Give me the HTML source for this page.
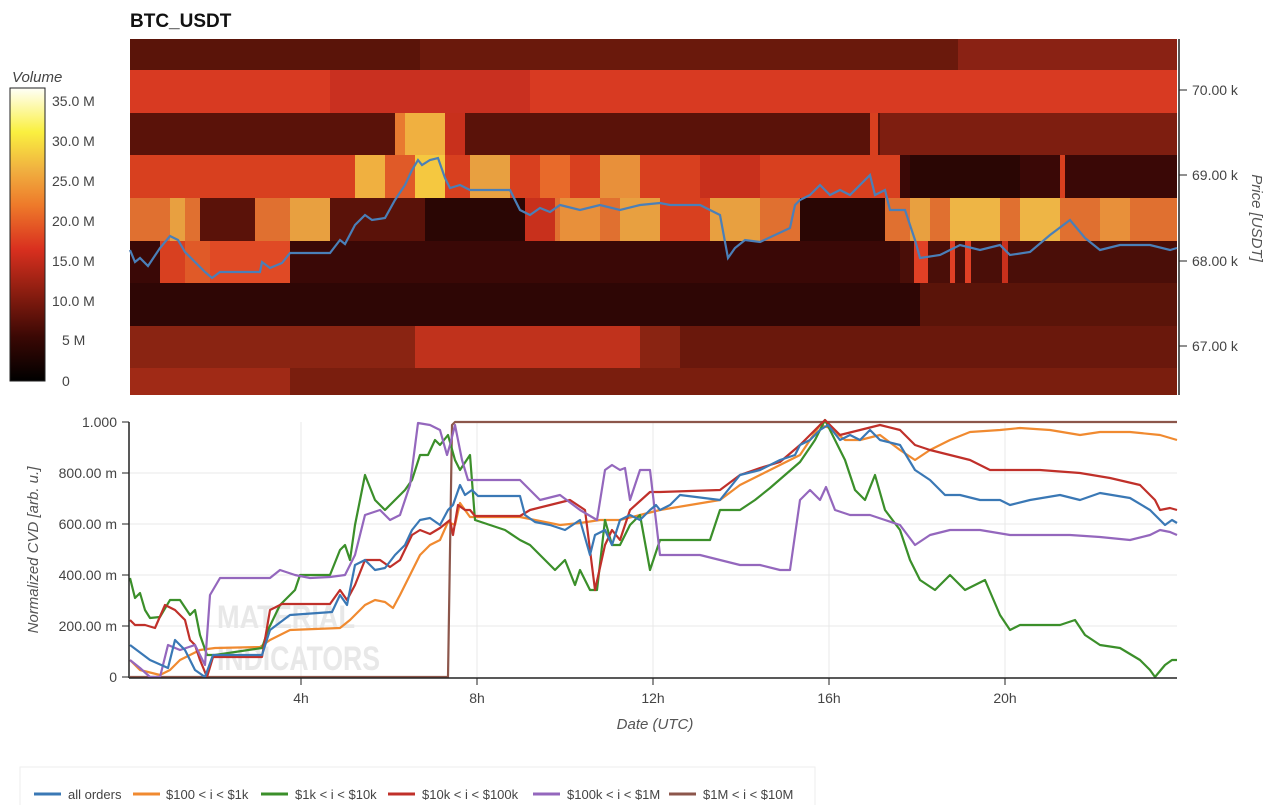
<!DOCTYPE html>
<html><head><meta charset="utf-8"><style>
body{margin:0;background:#fff;width:1273px;height:805px;overflow:hidden;font-family:"Liberation Sans",sans-serif}
</style></head><body>
<svg width="1273" height="805" xmlns="http://www.w3.org/2000/svg" font-family="Liberation Sans, sans-serif">
<defs>
<linearGradient id="cb" x1="0" y1="1" x2="0" y2="0">
<stop offset="0" stop-color="#000"/><stop offset="0.15" stop-color="#3a0804"/><stop offset="0.3" stop-color="#8a1d10"/><stop offset="0.45" stop-color="#d9301f"/><stop offset="0.6" stop-color="#ee7a2a"/><stop offset="0.72" stop-color="#f0b040"/><stop offset="0.85" stop-color="#faf040"/><stop offset="1" stop-color="#fffff8"/>
</linearGradient>
</defs>
<text x="130" y="27" font-size="19" font-weight="bold" fill="#111">BTC_USDT</text>
<g shape-rendering="crispEdges">
<rect x="130" y="39" width="1047" height="31" fill="#5a1409"/>
<rect x="420" y="39" width="540" height="31" fill="#6a190c"/>
<rect x="958" y="39" width="219" height="31" fill="#8a2214"/>
<rect x="130" y="70" width="1047" height="43" fill="#d83a22"/>
<rect x="330" y="70" width="200" height="43" fill="#c93020"/>
<rect x="130" y="113" width="1047" height="42" fill="#5a1209"/>
<rect x="395" y="113" width="10" height="42" fill="#e87a30"/>
<rect x="405" y="113" width="40" height="42" fill="#f0b040"/>
<rect x="445" y="113" width="20" height="42" fill="#c8301c"/>
<rect x="880" y="113" width="297" height="42" fill="#7e1e10"/>
<rect x="870" y="113" width="8" height="42" fill="#d8401f"/>
<rect x="130" y="155" width="1047" height="43" fill="#d8401f"/>
<rect x="355" y="155" width="30" height="43" fill="#f0b040"/>
<rect x="385" y="155" width="30" height="43" fill="#e05a28"/>
<rect x="415" y="155" width="30" height="43" fill="#f5c840"/>
<rect x="470" y="155" width="40" height="43" fill="#e8a040"/>
<rect x="540" y="155" width="30" height="43" fill="#e86a2a"/>
<rect x="600" y="155" width="40" height="43" fill="#e8903a"/>
<rect x="700" y="155" width="60" height="43" fill="#c8301c"/>
<rect x="900" y="155" width="277" height="43" fill="#3a0806"/>
<rect x="910" y="155" width="110" height="43" fill="#2a0604"/>
<rect x="1060" y="155" width="5" height="43" fill="#d8401f"/>
<rect x="130" y="198" width="1047" height="43" fill="#e07030"/>
<rect x="200" y="198" width="55" height="43" fill="#5a1209"/>
<rect x="170" y="198" width="15" height="43" fill="#e8a040"/>
<rect x="290" y="198" width="40" height="43" fill="#e8a040"/>
<rect x="330" y="198" width="100" height="43" fill="#5a1209"/>
<rect x="425" y="198" width="100" height="43" fill="#2a0604"/>
<rect x="525" y="198" width="30" height="43" fill="#c8301c"/>
<rect x="560" y="198" width="40" height="43" fill="#e8903a"/>
<rect x="620" y="198" width="40" height="43" fill="#e8a040"/>
<rect x="660" y="198" width="50" height="43" fill="#d8401f"/>
<rect x="710" y="198" width="50" height="43" fill="#e8a040"/>
<rect x="800" y="198" width="85" height="43" fill="#2a0604"/>
<rect x="910" y="198" width="20" height="43" fill="#e8a040"/>
<rect x="950" y="198" width="50" height="43" fill="#eeb545"/>
<rect x="1020" y="198" width="40" height="43" fill="#eeb545"/>
<rect x="1100" y="198" width="30" height="43" fill="#e8903a"/>
<rect x="130" y="241" width="1047" height="42" fill="#3a0806"/>
<rect x="160" y="241" width="130" height="42" fill="#d84020"/>
<rect x="185" y="241" width="40" height="42" fill="#e05a28"/>
<rect x="210" y="241" width="80" height="42" fill="#e04a25"/>
<rect x="900" y="241" width="277" height="42" fill="#4a0e08"/>
<rect x="914" y="241" width="14" height="42" fill="#e04025"/>
<rect x="950" y="241" width="5" height="42" fill="#e04025"/>
<rect x="965" y="241" width="6" height="42" fill="#e04025"/>
<rect x="1002" y="241" width="6" height="42" fill="#c8301c"/>
<rect x="130" y="283" width="1047" height="43" fill="#2e0605"/>
<rect x="920" y="283" width="257" height="43" fill="#5a1409"/>
<rect x="130" y="326" width="1047" height="42" fill="#8a2412"/>
<rect x="415" y="326" width="225" height="42" fill="#c0321c"/>
<rect x="680" y="326" width="497" height="42" fill="#6a180c"/>
<rect x="130" y="368" width="1047" height="27" fill="#7a1e0e"/>
<rect x="130" y="368" width="160" height="27" fill="#a02a16"/>
</g>
<polyline fill="none" stroke="#4a7fb8" stroke-width="2.2" points="130,250 135,262 140,258 148,266 160,248 170,236 178,240 185,252 195,262 205,272 212,278 220,272 260,272 262,262 270,268 282,263 290,253 330,253 340,240 345,244 355,225 365,215 372,220 385,218 395,200 405,185 412,170 418,160 422,165 430,160 438,158 445,178 450,188 460,185 470,190 510,190 520,210 530,215 540,208 550,212 560,205 580,210 600,205 620,210 640,205 660,203 670,205 700,205 710,210 720,215 728,258 735,248 745,240 760,242 790,228 795,205 800,200 810,195 820,185 830,195 840,190 850,195 860,185 870,175 875,195 885,190 890,210 905,210 915,240 920,258 940,255 960,245 980,250 1000,245 1010,255 1030,252 1050,235 1070,220 1085,238 1100,250 1120,245 1150,245 1170,250 1177,248"/>
<line x1="1179" y1="39" x2="1179" y2="395" stroke="#222" stroke-width="1.5"/>
<g stroke="#222"><line x1="1179" y1="90" x2="1187" y2="90"/><line x1="1179" y1="175" x2="1187" y2="175"/><line x1="1179" y1="261" x2="1187" y2="261"/><line x1="1179" y1="346" x2="1187" y2="346"/></g>
<g font-size="14" fill="#444"><text x="1192" y="95">70.00 k</text><text x="1192" y="180">69.00 k</text><text x="1192" y="266">68.00 k</text><text x="1192" y="351">67.00 k</text></g>
<text transform="translate(1252,218) rotate(90)" text-anchor="middle" font-size="15" font-style="italic" fill="#555">Price [USDT]</text>
<text x="12" y="82" font-size="15" font-style="italic" fill="#444">Volume</text>
<rect x="10" y="88" width="35" height="293" fill="url(#cb)" stroke="#222"/>
<g font-size="14" fill="#444">
<text x="52" y="106">35.0 M</text><text x="52" y="146">30.0 M</text><text x="52" y="186">25.0 M</text><text x="52" y="226">20.0 M</text><text x="52" y="266">15.0 M</text><text x="52" y="306">10.0 M</text><text x="62" y="345">5 M</text><text x="62" y="386">0</text></g>
<g stroke="#e8e8e8"><line x1="130" y1="473" x2="1177" y2="473"/><line x1="130" y1="524" x2="1177" y2="524"/><line x1="130" y1="575" x2="1177" y2="575"/><line x1="130" y1="626" x2="1177" y2="626"/>
<line x1="301" y1="422" x2="301" y2="677"/><line x1="477" y1="422" x2="477" y2="677"/><line x1="653" y1="422" x2="653" y2="677"/><line x1="829" y1="422" x2="829" y2="677"/><line x1="1005" y1="422" x2="1005" y2="677"/></g>
<text x="217" y="628" font-size="32" font-weight="bold" fill="#e8e8e8" textLength="138" lengthAdjust="spacingAndGlyphs">MATERIAL</text>
<text x="217" y="670" font-size="34" font-weight="bold" fill="#e8e8e8" textLength="163" lengthAdjust="spacingAndGlyphs">INDICATORS</text>
<g fill="none" stroke-width="2.2" stroke-linejoin="round">
<polyline stroke="#8c564b" points="130,677 448,677 452,425 455,422 1177,422"/>
<polyline stroke="#f08a30" points="130,660 140,670 160,675 170,670 180,660 200,650 215,648 260,647 270,640 290,630 340,628 350,620 365,605 375,600 385,602 393,608 400,595 410,575 420,555 430,545 440,540 448,522 455,525 460,503 470,517 520,517 535,520 560,525 580,523 600,520 620,520 640,515 660,510 690,505 720,500 740,485 760,475 780,465 800,455 820,425 830,428 845,440 860,440 880,435 900,450 915,460 930,450 950,440 970,432 1000,430 1020,428 1050,430 1080,435 1100,432 1130,432 1160,435 1177,440"/>
<polyline stroke="#3b8f2a" points="130,578 135,598 140,593 145,610 150,618 160,617 170,600 180,600 190,615 195,610 200,635 207,655 215,655 262,648 268,630 280,605 295,590 300,575 330,575 340,550 345,545 350,560 355,525 365,475 375,500 385,510 395,500 405,490 412,480 420,455 428,455 435,440 440,445 448,435 455,460 460,470 470,455 475,520 490,525 505,530 520,540 530,545 545,560 555,570 565,560 575,585 580,570 590,590 597,590 605,520 612,545 620,545 630,525 640,515 650,570 660,540 710,540 720,510 740,510 755,500 770,488 785,475 800,462 815,440 825,420 835,440 845,460 855,490 865,500 875,475 885,510 900,530 910,560 920,580 935,590 950,575 965,590 985,580 1000,615 1010,630 1020,625 1040,625 1060,625 1075,620 1085,635 1100,645 1120,648 1140,660 1150,670 1155,677 1165,665 1172,660 1177,660"/>
<polyline stroke="#c0302a" points="130,620 135,625 145,625 155,628 165,605 175,610 185,620 190,640 195,645 200,660 207,677 213,657 262,657 270,610 282,604 330,604 340,590 347,600 355,585 365,560 380,560 390,567 400,560 412,535 420,530 430,534 440,528 450,520 453,535 458,505 465,510 470,510 475,516 520,516 530,510 550,505 570,500 585,510 595,590 605,545 612,530 620,540 630,510 650,492 660,492 720,490 740,475 760,468 780,462 800,445 815,430 825,420 840,435 860,430 880,425 900,430 915,445 930,450 950,455 970,460 990,470 1010,470 1040,470 1080,473 1110,478 1140,485 1155,500 1160,510 1170,508 1177,510"/>
<polyline stroke="#9467bd" points="130,660 140,668 150,677 160,677 168,645 180,650 195,645 205,665 210,595 220,578 270,578 280,570 295,575 310,578 330,577 345,575 355,555 365,515 380,510 390,520 400,515 410,485 418,423 430,425 440,430 447,455 450,445 455,425 462,460 468,480 520,480 540,500 560,495 580,510 597,520 605,470 612,465 620,470 625,468 630,500 640,470 650,470 660,555 700,555 720,560 740,565 760,565 780,570 790,570 800,500 810,490 820,500 826,487 835,510 850,515 870,515 885,520 900,525 915,545 930,535 950,530 980,530 1010,535 1040,535 1070,535 1100,537 1130,540 1150,535 1160,530 1170,532 1177,535"/>
<polyline stroke="#3a78b5" points="130,645 150,660 168,668 175,640 185,650 195,670 205,677 213,655 262,655 270,630 290,615 332,612 340,595 347,605 355,565 365,560 375,570 385,568 395,555 405,545 412,530 420,520 430,518 440,525 448,510 453,505 460,485 465,495 472,490 478,496 520,496 525,515 535,522 550,525 565,530 580,520 590,555 595,535 605,530 612,545 620,520 630,515 640,520 650,510 656,505 660,510 670,505 680,495 720,500 740,475 760,470 780,460 795,455 800,445 810,440 820,430 828,425 840,440 850,435 860,440 870,430 880,440 900,445 915,470 930,480 945,495 960,495 980,500 1000,500 1010,505 1030,500 1060,495 1080,500 1100,493 1130,498 1150,510 1160,520 1165,525 1172,520 1177,523"/>
</g>
<g stroke="#222" stroke-width="1.5"><line x1="129" y1="422" x2="129" y2="678"/><line x1="129" y1="678" x2="1177" y2="678"/></g>
<g stroke="#222"><line x1="122" y1="422" x2="129" y2="422"/><line x1="122" y1="473" x2="129" y2="473"/><line x1="122" y1="524" x2="129" y2="524"/><line x1="122" y1="575" x2="129" y2="575"/><line x1="122" y1="626" x2="129" y2="626"/><line x1="122" y1="677" x2="129" y2="677"/>
<line x1="301" y1="678" x2="301" y2="685"/><line x1="477" y1="678" x2="477" y2="685"/><line x1="653" y1="678" x2="653" y2="685"/><line x1="829" y1="678" x2="829" y2="685"/><line x1="1005" y1="678" x2="1005" y2="685"/></g>
<g font-size="14" fill="#444" text-anchor="end"><text x="117" y="427">1.000</text><text x="117" y="478">800.00 m</text><text x="117" y="529">600.00 m</text><text x="117" y="580">400.00 m</text><text x="117" y="631">200.00 m</text><text x="117" y="682">0</text></g>
<g font-size="14" fill="#444" text-anchor="middle"><text x="301" y="703">4h</text><text x="477" y="703">8h</text><text x="653" y="703">12h</text><text x="829" y="703">16h</text><text x="1005" y="703">20h</text></g>
<text x="655" y="729" text-anchor="middle" font-size="15" font-style="italic" fill="#555">Date (UTC)</text>
<text transform="translate(38,550) rotate(-90)" text-anchor="middle" font-size="15" font-style="italic" fill="#555">Normalized CVD [arb. u.]</text>
<rect x="20" y="767" width="795" height="45" fill="#fff" stroke="#eee"/>
<g stroke-width="3"><line x1="34" y1="794" x2="61" y2="794" stroke="#3a78b5"/><line x1="133" y1="794" x2="160" y2="794" stroke="#f08a30"/><line x1="261" y1="794" x2="288" y2="794" stroke="#3b8f2a"/><line x1="388" y1="794" x2="415" y2="794" stroke="#c0302a"/><line x1="533" y1="794" x2="560" y2="794" stroke="#9467bd"/><line x1="669" y1="794" x2="696" y2="794" stroke="#8c564b"/></g>
<g font-size="13" fill="#444"><text x="68" y="799">all orders</text><text x="166" y="799">$100 &lt; i &lt; $1k</text><text x="295" y="799">$1k &lt; i &lt; $10k</text><text x="422" y="799">$10k &lt; i &lt; $100k</text><text x="567" y="799">$100k &lt; i &lt; $1M</text><text x="703" y="799">$1M &lt; i &lt; $10M</text></g>
</svg>
</body></html>
